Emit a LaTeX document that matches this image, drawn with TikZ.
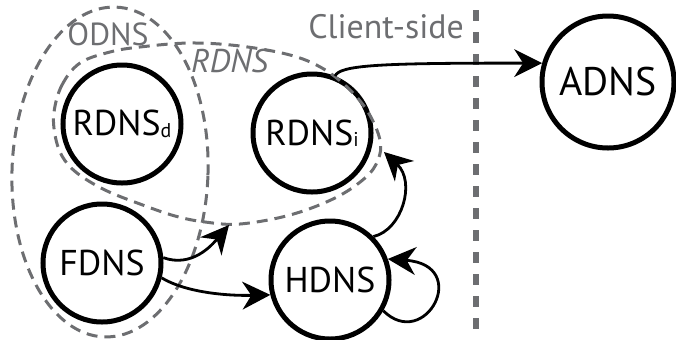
\documentclass[tikz,border=0pt]{standalone}
\usepackage{fontspec}
\setmainfont{PT Sans}
\usetikzlibrary{arrows.meta}
\definecolor{linegray}{HTML}{6D6E71}
\newcommand\lowsub[1]{\raisebox{-1.5bp}{\fontsize{20}{20}\selectfont #1}}
\begin{document}
\begin{tikzpicture}[x=1bp,y=-1bp,
  dns/.style={circle,draw=black,line width=5bp,minimum size=118bp,inner sep=0pt,
    font=\fontsize{36}{40}\selectfont},
  region/.style={draw=linegray,line width=3bp,dash pattern=on 11bp off 7bp},
  flow/.style={line width=2.8bp,-{Stealth[length=28bp,width=28bp,inset=9bp]}},
  tag/.style={text=linegray,inner sep=0pt,font=\fontsize{32}{36}\selectfont},
  divider/.style={draw=linegray,line width=6bp,dash pattern=on 11bp off 11bp}]
\useasboundingbox (0,0) rectangle (676,339);

% resolver nodes
\node[dns] (rd) at (122,124) {RDNS\lowsub{d}};
\node[dns] (ri) at (312,133) {RDNS\lowsub{i}};
\node[dns] (fd) at (102,263) {FDNS};
\node[dns] (hd) at (330,280) {HDNS};
\node[dns,minimum size=132bp,font=\fontsize{40}{44}\selectfont] (ad) at (608,82) {ADNS};

% ODNS region
\draw[region,rotate around={-2:(110,172)}] (110,172) ellipse [x radius=98bp,y radius=165bp];
\node[tag,anchor=base] (odns) at (108,45) {ODNS};

% RDNS region
\draw[region] plot[smooth cycle,tension=0.6] coordinates {
  (54,112) (62,85) (80,63) (110,52) (140,47) (190,43) (240,46) (290,55)
  (322,68) (348,88) (368,112) (380,140) (378,160) (365,178) (335,198)
  (290,215) (240,224) (205,222) (175,216) (140,204) (105,190) (77,173)
  (62,156) (55,135)};
\node[tag,anchor=base west,font=\fontsize{33}{36}\selectfont\itshape] (rdns) at (191,72) {RDNS};

% client-side divider
\coordinate (divtop) at (476,10);
\coordinate (divbot) at (476,339);
\draw[divider] (divtop) -- (divbot);
\node[tag,anchor=base east,font=\fontsize{34}{38}\selectfont] (client) at (464,38) {Client-side};

% query flows
\coordinate (gap) at (229,225);
\coordinate (riin) at (384,152);
\draw[flow] (ri.68) .. controls (340,65) and (380,63) .. (ad.164);
\draw[flow] (fd.5) .. controls (192,268) and (212,245) .. (gap);
\draw[flow] (fd.-14) .. controls (185,292) and (225,296) .. (hd.194);
\draw[flow] (hd.45) .. controls (402,230) and (416,182) .. (riin);
\draw[flow] (hd.-30) .. controls (425,352) and (472,265) .. (hd.20);
\end{tikzpicture}
\end{document}
